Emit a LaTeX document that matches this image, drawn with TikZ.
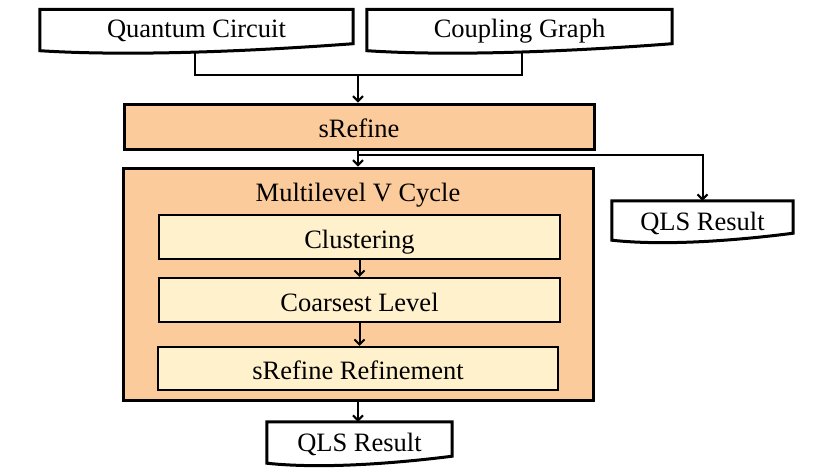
\documentclass[tikz,border=0pt]{standalone}
\usepackage{fontspec}
\setmainfont{Liberation Serif}
\usetikzlibrary{arrows.meta}
\definecolor{peach}{HTML}{FCCB9C}
\definecolor{cream}{HTML}{FFF1CC}
\tikzset{
  txt/.style={font=\fontsize{26.5}{30}\selectfont, text height=24pt, text depth=1.6pt},
  lbl/.style={txt, inner sep=0pt},
  docbox/.style={inner sep=0pt, minimum width=#1, minimum height=41pt},
  mainbox/.style={txt, draw=black, line width=3pt, fill=peach, inner sep=0pt},
  subbox/.style={txt, draw=black, line width=2.2pt, fill=cream, inner sep=0pt, minimum width=401pt, minimum height=44pt},
  docline/.style={draw=black, line width=3pt, line join=miter},
  conn/.style={draw=black, line width=2pt},
  arr/.style={conn, -{Straight Barb[length=5pt,width=10pt]}},
}
\newcommand{\docshape}[1]{%
  \path[docline, fill=white] (#1.north west) -- (#1.north east) -- ([yshift=7pt]#1.south east)
    .. controls ([xshift=-0.3*\docw]#1.south east) and ([xshift=0.3*\docw,yshift=-6pt]#1.south west) .. (#1.south west) -- cycle;}
\begin{document}
\begin{tikzpicture}[x=1pt,y=-1pt]
\useasboundingbox (0,0) rectangle (830,475);
% document shapes
\node[docbox=313pt] (qc) at (196.5,30) {};
\node[docbox=305pt] (cg) at (519.5,30) {};
\node[docbox=181pt, minimum height=39pt] (qls1) at (702.5,220.5) {};
\node[docbox=185pt] (qls2) at (359.5,442.5) {};
\def\docw{313pt}\docshape{qc}
\def\docw{305pt}\docshape{cg}
\def\docw{181pt}\docshape{qls1}
\def\docw{185pt}\docshape{qls2}
\node[lbl] at ([yshift=3.5pt]qc.center) {Quantum Circuit};
\node[lbl] at ([yshift=3.5pt]cg.center) {Coupling Graph};
\node[lbl] at ([yshift=1pt]qls1.center) {QLS Result};
\node[lbl] at ([yshift=2pt]qls2.center) {QLS Result};
% main boxes
\node[mainbox, minimum width=470pt, minimum height=45pt] (sref) at (359,126.5) {sRefine};
\node[mainbox, minimum width=470pt, minimum height=232pt] (mlv) at (358,284) {};
\node[lbl] (title) at (358,190.5) {Multilevel V Cycle};
\node[subbox] (clus) at (359.5,237) {Clustering};
\node[subbox] (coarse) at (359.5,300) {Coarsest Level};
\node[subbox, minimum width=400pt, minimum height=43pt] (srr) at (358,368.5) {sRefine Refinement};
% connectors
\coordinate (j) at (358,75);
\draw[conn] ([xshift=-1.5pt,yshift=-1pt]qc.south) |- (j) -| ([xshift=2.5pt,yshift=-1pt]cg.south);
\draw[arr] (j) -- (j |- sref.north);
\draw[arr] (j |- sref.south) -- (j |- mlv.north);
\coordinate (b) at (358,155);
\draw[arr] (b) -| (qls1.north);
\draw[arr] (clus.south) -- (clus.south |- coarse.north);
\draw[arr] (coarse.south) -- (coarse.south |- srr.north);
\draw[arr] (mlv.south) -- (mlv.south |- qls2.north);
\end{tikzpicture}
\end{document}
